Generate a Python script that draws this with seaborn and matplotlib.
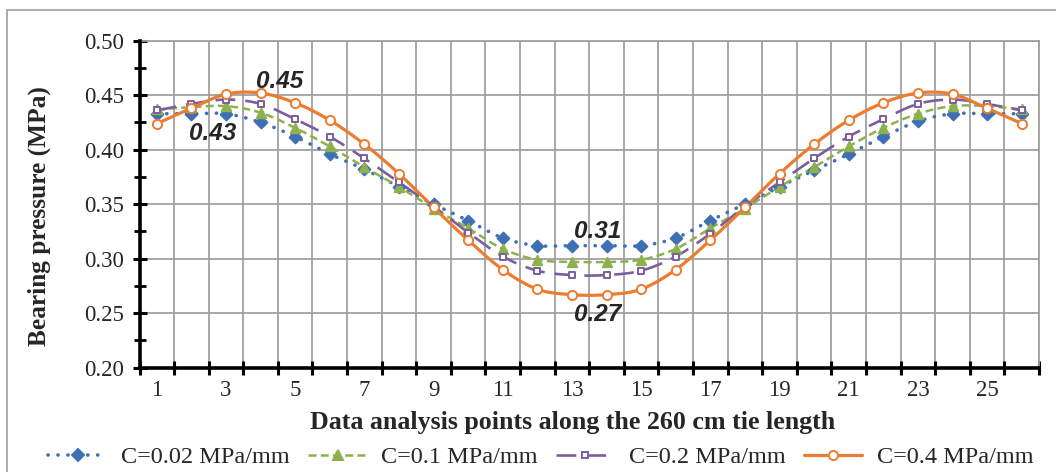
import numpy as np
import pandas as pd
import matplotlib
matplotlib.use("Agg")
import matplotlib.pyplot as plt
from matplotlib.lines import Line2D
from matplotlib.patches import Rectangle
import seaborn as sns

# ---------------- data ----------------
points = list(range(1, 27))
c002 = [0.433, 0.433, 0.433, 0.425, 0.412, 0.396, 0.382, 0.366, 0.350, 0.335, 0.319, 0.312, 0.312,
        0.312, 0.312, 0.319, 0.335, 0.350, 0.366, 0.381, 0.396, 0.412, 0.426, 0.433, 0.433, 0.433]
c01 = [0.437, 0.439, 0.440, 0.434, 0.420, 0.403, 0.384, 0.366, 0.346, 0.328, 0.309, 0.299, 0.297,
       0.297, 0.299, 0.309, 0.328, 0.346, 0.366, 0.384, 0.403, 0.420, 0.433, 0.440, 0.440, 0.437]
c02 = [0.436, 0.442, 0.446, 0.442, 0.428, 0.412, 0.392, 0.370, 0.348, 0.324, 0.302, 0.289, 0.285,
       0.285, 0.289, 0.302, 0.323, 0.348, 0.370, 0.392, 0.412, 0.428, 0.442, 0.446, 0.442, 0.436]
c04 = [0.424, 0.438, 0.451, 0.452, 0.443, 0.427, 0.405, 0.378, 0.347, 0.317, 0.290, 0.272, 0.267,
       0.267, 0.272, 0.290, 0.317, 0.347, 0.378, 0.405, 0.427, 0.443, 0.452, 0.451, 0.438, 0.424]
series_names = ["C=0.02 MPa/mm", "C=0.1 MPa/mm", "C=0.2 MPa/mm", "C=0.4 MPa/mm"]
series_values = [c002, c01, c02, c04]

annot_texts = ["0.45", "0.43", "0.31", "0.27"]
annot_x = [4.55, 2.6, 13.75, 13.75]
annot_y = [0.463, 0.415, 0.325, 0.249]

xtick_labels = [str(v) for v in range(1, 27, 2)]
ytick_values = [0.20, 0.25, 0.30, 0.35, 0.40, 0.45, 0.50]

# ---------------- styles ----------------
colors = ["#3F70B4", "#8DB14C", "#7B5E9F", "#EC7C30"]
dashes = [(0.05, 2.7), (3.2, 1.7), (7.5, 3.8), ()]
caps = ["round", "butt", "butt", "butt"]
markers = ["D", "^", "s", "o"]
msizes = [6.0, 6.8, 4.4, 6.6]
mfaces = ["#3F70B4", "#8DB14C", "white", "white"]
lws = [2.6, 1.8, 1.9, 2.3]


def smooth_curve(x, y, n=16):
    """Catmull-Rom rendering of the line through the data points (Excel 'smoothed line')."""
    x = np.asarray(x, float)
    y = np.asarray(y, float)
    px = np.concatenate([[2 * x[0] - x[1]], x, [2 * x[-1] - x[-2]]])
    py = np.concatenate([[2 * y[0] - y[1]], y, [2 * y[-1] - y[-2]]])
    xs, ys = [], []
    t = np.linspace(0, 1, n, endpoint=False)
    for i in range(1, len(px) - 2):
        for arr, out in ((px, xs), (py, ys)):
            p0, p1, p2, p3 = arr[i - 1], arr[i], arr[i + 1], arr[i + 2]
            out.extend(0.5 * ((2 * p1) + (-p0 + p2) * t + (2 * p0 - 5 * p1 + 4 * p2 - p3) * t ** 2
                              + (-p0 + 3 * p1 - 3 * p2 + p3) * t ** 3))
    xs.append(x[-1])
    ys.append(y[-1])
    return np.array(xs), np.array(ys)


sns.set_theme(style="white")
plt.rcParams["font.family"] = ["Liberation Serif", "DejaVu Serif"]

fig = plt.figure(figsize=(10.56, 4.72), dpi=100)
ax = fig.add_axes([139.5 / 1056, 1 - 367.7 / 472, (1039 - 139.5) / 1056, (367.7 - 40.7) / 472])

# outer chart border
fig.patches.append(Rectangle((7 / 1056, -0.05), 1.1, 1 - 10 / 472 + 0.05, transform=fig.transFigure,
                             fill=False, edgecolor="#A6A6A6", linewidth=1.3, zorder=0))

handles = []
for name, vals, col, ds, cap, mk, ms, mf, lw in zip(series_names, series_values, colors, dashes, caps,
                                                     markers, msizes, mfaces, lws):
    sx, sy = smooth_curve(points, vals)
    sm = pd.DataFrame({"x": sx, "y": sy})
    sns.lineplot(data=sm, x="x", y="y", sort=False, ax=ax, color=col, linewidth=lw, zorder=3,
                 estimator=None)
    ln = ax.get_lines()[-1]
    if ds:
        ln.set_dashes(ds)
    ln.set_dash_capstyle(cap)
    pts = pd.DataFrame({"x": points, "y": vals})
    sns.scatterplot(data=pts, x="x", y="y", ax=ax, marker=mk, s=ms ** 2, color=mf, edgecolor=col,
                    linewidth=1.4, zorder=4)
    h = Line2D([], [], color=col, linewidth=lw, marker=mk, markersize=ms, markerfacecolor=mf,
               markeredgecolor=col, markeredgewidth=1.4)
    if ds:
        h.set_dashes(ds)
    h.set_dash_capstyle(cap)
    handles.append(h)

for t, xx, yy in zip(annot_texts, annot_x, annot_y):
    ax.text(xx, yy, t, ha="center", va="center", fontsize=17.5, fontweight="bold", fontstyle="italic",
            family=["Liberation Sans", "DejaVu Sans"], zorder=6)

ax.set_xlim(0.5, 26.5)
ax.set_ylim(0.20, 0.50)
ax.set_xticks(np.arange(0.5, 27, 1))
ax.set_xticklabels([])
ax.set_xticks(np.arange(1, 27, 2), minor=True)
ax.set_xticklabels(xtick_labels, minor=True)
ax.set_yticks(ytick_values)
ax.set_yticklabels([f"{v:.2f}" for v in ytick_values])
ax.set_yticks(np.arange(0.225, 0.5, 0.05), minor=True)

ax.grid(True, which="major", color="#A0A0A0", linewidth=1.3)
ax.set_axisbelow(True)
ax.tick_params(axis="x", which="major", direction="inout", length=10, width=2.2, color="black", bottom=True)
ax.tick_params(axis="x", which="minor", length=0, labelsize=16.5, pad=9, bottom=True)
ax.tick_params(axis="y", which="major", direction="inout", length=10, width=2.2, color="black",
               labelsize=16.5, pad=6, left=True)
ax.tick_params(axis="y", which="minor", direction="inout", length=8, width=2.0, color="black", left=True)

for s in ["left", "bottom"]:
    ax.spines[s].set_color("black")
    ax.spines[s].set_linewidth(2.6)
    ax.spines[s].set_zorder(5)
for s in ["top", "right"]:
    ax.spines[s].set_color("#A0A0A0")
    ax.spines[s].set_linewidth(1.3)

ax.set_xlabel("")
ax.set_ylabel("")
fig.text(573 / 1056, 1 - 423 / 472, "Data analysis points along the 260 cm tie length", ha="center",
         va="center", fontsize=18.7, fontweight="bold")
fig.text(39 / 1056, 1 - 216 / 472, "Bearing pressure (MPa)", ha="center", va="center", rotation=90,
         fontsize=18.3, fontweight="bold")

fig.legend(handles, series_names, loc="center", bbox_to_anchor=(541 / 1056, 1 - 457 / 472), ncol=4,
           frameon=False, fontsize=17.5, handlelength=2.4, handletextpad=0.6, columnspacing=0.75,
           borderaxespad=0, borderpad=0)

fig.savefig("out.png", dpi=100)
